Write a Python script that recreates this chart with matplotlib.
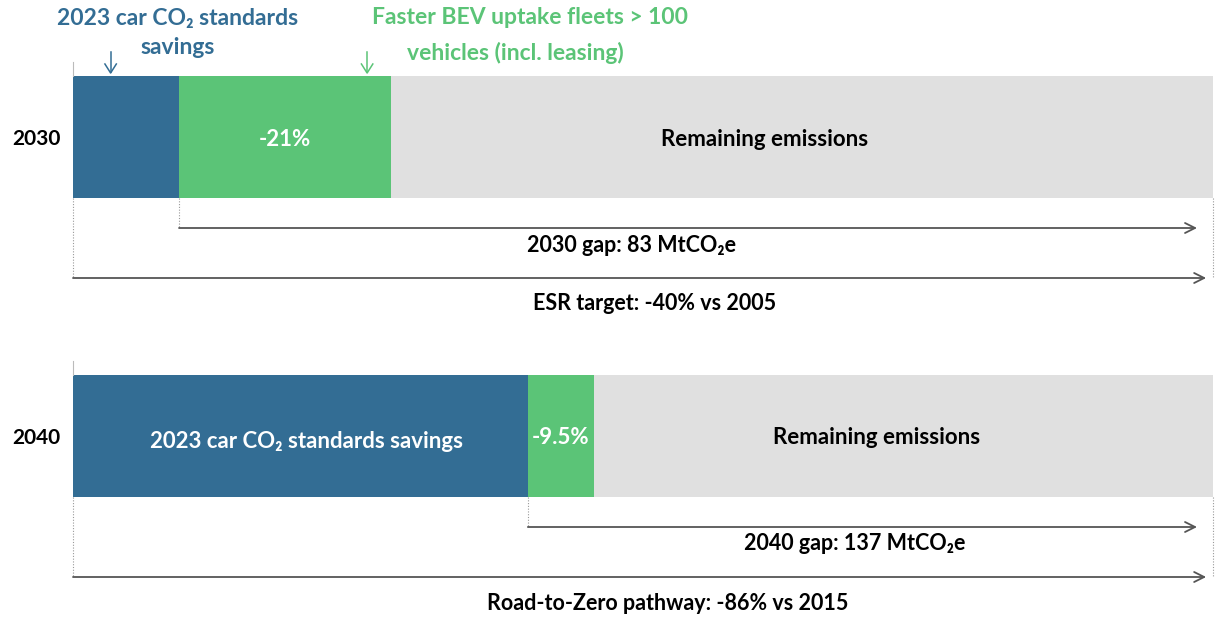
import matplotlib.pyplot as plt
from matplotlib import font_manager

# pick a family that really has a bold face
family = 'Lato'
bold_ok = [f for f in font_manager.fontManager.ttflist
           if f.name == 'Lato' and (f.weight in ('bold', 'semibold', 'demibold', 'heavy')
                                    or (isinstance(f.weight, int) and f.weight >= 600))]
if not bold_ok:
    family = 'Roboto'
plt.rcParams['font.family'] = [family, 'DejaVu Sans']
plt.rcParams['font.weight'] = 'bold'

# shares of the bar (percent of total width)
years = ['2030', '2040']
standards = [9.3, 39.9]
bev_fleets = [18.6, 5.8]
remaining = [72.1, 54.3]
bev_labels = ['-21%', '-9.5%']
gap_labels = ['2030 gap: 83 MtCO\u2082e', '2040 gap: 137 MtCO\u2082e']
target_labels = ['ESR target: -40% vs 2005', 'Road-to-Zero pathway: -86% vs 2015']

BLUE = '#336d94'
GREEN = '#5bc477'
GREY = '#e0e0e0'
ARROW = '#555555'

fig = plt.figure(figsize=(12.15, 6.26), dpi=100)
ax = fig.add_axes([0, 0, 1, 1])
px = 11.4  # pixels per unit
ax.set_xlim(-73 / px, (1215 - 73) / px)
ax.set_ylim(626, 0)
ax.axis('off')

# label anchors (units along the bar)
rem_x = [60.7, 70.5]
gap_x = [49.0, 68.6]
tgt_x = [51.0, 52.2]

ys = [137, 436]
h = 122
for i, y in enumerate(ys):
    left = 0
    ax.barh(y, standards[i], height=h, left=left, color=BLUE)
    left += standards[i]
    ax.barh(y, bev_fleets[i], height=h, left=left, color=GREEN)
    left += bev_fleets[i]
    ax.barh(y, remaining[i], height=h, left=left, color=GREY)
    total = left + remaining[i]

    top = y - h / 2
    bot = y + h / 2
    gap_y = bot + 30
    tgt_y = bot + 80
    # axis stub above bar
    ax.plot([0, 0], [top - 14, top], color='#bbbbbb', lw=0.8)
    # dashed guides
    ax.plot([0, 0], [bot, tgt_y], color='#999999', lw=0.8, ls=(0, (1, 1.5)))
    ax.plot([standards[i]] * 2, [bot, gap_y], color='#999999', lw=0.8, ls=(0, (1, 1.5)))
    ax.plot([total] * 2, [bot, tgt_y], color='#999999', lw=0.8, ls=(0, (1, 1.5)))
    # arrows
    ax.annotate('', xy=(total - 1.4, gap_y), xytext=(standards[i], gap_y),
                arrowprops=dict(arrowstyle='->', color=ARROW, lw=1.3, mutation_scale=18,
                                shrinkA=0, shrinkB=0))
    ax.annotate('', xy=(total - 0.6, tgt_y), xytext=(0, tgt_y),
                arrowprops=dict(arrowstyle='->', color=ARROW, lw=1.3, mutation_scale=18,
                                shrinkA=0, shrinkB=0))

    ax.text(-3.2, y + 2, years[i], ha='center', va='center', fontsize=15, color='black')
    ax.text(standards[i] + bev_fleets[i] / 2, y + 2, bev_labels[i], ha='center', va='center',
            fontsize=16, color='white')
    ax.text(rem_x[i], y + 2, 'Remaining emissions', ha='center', va='center',
            fontsize=16, color='black')
    ax.text(gap_x[i], gap_y + 17, gap_labels[i], ha='center', va='center',
            fontsize=15.5, color='black')
    ax.text(tgt_x[i], tgt_y + 26, target_labels[i], ha='center', va='center',
            fontsize=15.5, color='black')

ax.text(standards[1] / 2 + 0.5, ys[1] + 5, '2023 car CO\u2082 standards savings', ha='center',
        va='center', fontsize=16, color='white')

# callouts for 2030
ax.text(9.2, 18, '2023 car CO\u2082 standards', ha='center', va='center', fontsize=16.5, color=BLUE)
ax.text(9.2, 47, 'savings', ha='center', va='center', fontsize=16.5, color=BLUE)
ax.plot([3.3, 3.3], [52, 72], color=BLUE, lw=1.1)
ax.plot([2.8, 3.3, 3.8], [64, 73, 64], color=BLUE, lw=1.1)
ax.text(40.1, 18, 'Faster BEV uptake fleets > 100', ha='center', va='center', fontsize=16.5, color=GREEN)
ax.text(38.8, 53, 'vehicles (incl. leasing)', ha='center', va='center', fontsize=16.5, color=GREEN)
ax.plot([25.8, 25.8], [52, 72], color=GREEN, lw=1.1)
ax.plot([25.3, 25.8, 26.3], [64, 73, 64], color=GREEN, lw=1.1)

fig.savefig('out.png', dpi=100)
